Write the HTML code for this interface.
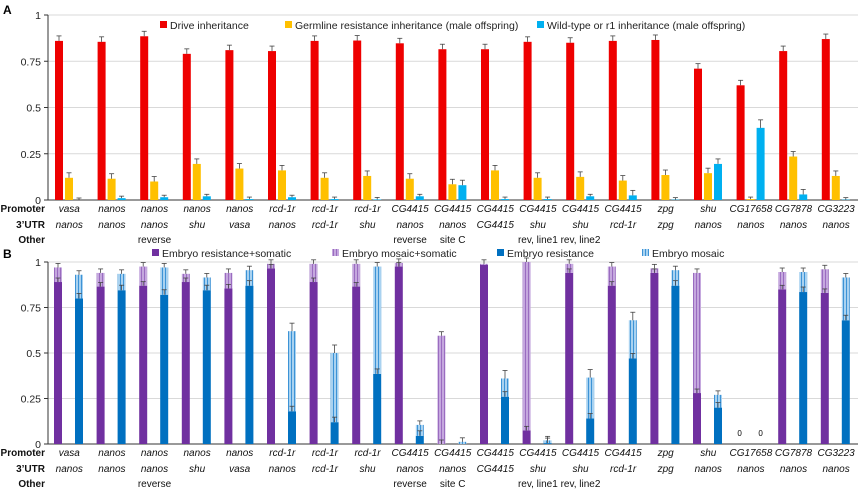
<!DOCTYPE html><html><head><style>body{margin:0;background:#fff}svg{display:block;font-family:"Liberation Sans",sans-serif}</style></head><body>
<svg id="s" width="865" height="490" xmlns="http://www.w3.org/2000/svg">
<defs>
<pattern id="pp" width="3" height="4" patternUnits="userSpaceOnUse"><rect width="3" height="4" fill="#c5a8de"/><rect width="1" height="4" fill="#9a6cc0"/></pattern>
<pattern id="bp" width="3" height="4" patternUnits="userSpaceOnUse"><rect width="3" height="4" fill="#a9d2f0"/><rect width="1" height="4" fill="#3d93d6"/></pattern>
</defs>
</svg>
<script>
const s=document.getElementById('s');let h='';
const X0=48,X1=858,G=42.6;
function axis(top,bot){
 const H=bot-top;
 for(let i=0;i<=4;i++){const y=bot-H*i/4;if(i>0)h+=`<line x1="${X0}" x2="${X1}" y1="${y}" y2="${y}" stroke="#d9d9d9" stroke-width="1"/>`;
 h+=`<line x1="${X0-4}" x2="${X0}" y1="${y}" y2="${y}" stroke="#333"/><text x="${X0-7}" y="${y+4}" font-size="10.5" text-anchor="end" fill="#222">${['0','0.25','0.5','0.75','1'][i]}</text>`;}
 h+=`<line x1="${X0}" x2="${X0}" y1="${top}" y2="${bot}" stroke="#333"/><line x1="${X0}" x2="${X1}" y1="${bot}" y2="${bot}" stroke="#333"/>`;
 const P=['vasa','nanos','nanos','nanos','nanos','rcd-1r','rcd-1r','rcd-1r','CG4415','CG4415','CG4415','CG4415','CG4415','CG4415','zpg','shu','CG17658','CG7878','CG3223'];
 const U=['nanos','nanos','nanos','shu','vasa','nanos','rcd-1r','shu','nanos','nanos','CG4415','shu','shu','rcd-1r','zpg','nanos','nanos','nanos','nanos'];
 const O=['','','reverse','','','','','','reverse','site C','','rev, line1','rev, line2','','','','','',''];
 const r=[bot+12,bot+28,bot+43];
 ['Promoter','3’UTR','Other'].forEach((t,k)=>h+=`<text x="45" y="${r[k]}" font-size="10" font-weight="bold" text-anchor="end" fill="#111">${t}</text>`);
 for(let i=0;i<19;i++){const c=X0+G*i+G/2;
  h+=`<text x="${c}" y="${r[0]}" font-size="10" font-style="italic" text-anchor="middle" fill="#111">${P[i]}</text>`;
  h+=`<text x="${c}" y="${r[1]}" font-size="10" font-style="italic" text-anchor="middle" fill="#111">${U[i]}</text>`;
  if(O[i])h+=`<text x="${c}" y="${r[2]}" font-size="10" text-anchor="middle" fill="#111">${O[i]}</text>`;}
}
function bar(x,w,y0,y1,fill){h+=`<rect x="${x}" y="${Math.min(y0,y1)}" width="${w}" height="${Math.abs(y1-y0)}" fill="${fill}"/>`;}
function err(x,y,e){h+=`<line x1="${x}" x2="${x}" y1="${y}" y2="${y-e}" stroke="#444" stroke-width="0.8"/><line x1="${x-2.5}" x2="${x+2.5}" y1="${y-e}" y2="${y-e}" stroke="#444" stroke-width="0.8"/>`;}
const aT=15,aB=200,aH=185;
axis(aT,aB);
const A=[[.86,.12,0],[.855,.115,.01],[.885,.10,.015],[.79,.195,.02],[.81,.17,.005],[.805,.16,.015],[.86,.12,.005],[.862,.13,.003],[.847,.115,.02],[.815,.085,.08],[.815,.16,.005],[.855,.12,.005],[.85,.125,.02],[.86,.105,.025],[.865,.135,.002],[.71,.145,.195],[.62,.005,.39],[.805,.235,.03],[.87,.13,.002]];
const AC=['#ee0000','#ffc000','#00b0f0'];
A.forEach((d,i)=>{const x=X0+G*i+7;d.forEach((v,k)=>{const bx=x+k*10,y=aB-v*aH;bar(bx,8,aB,y,AC[k]);err(bx+4,y,v>0.3&&k==2?8:(v>0.02?5:2));});});
h+=`<text x="3" y="14" font-size="12" font-weight="bold">A</text>`;
[[160,'Drive inheritance',0],[285,'Germline resistance inheritance (male offspring)',1],[537,'Wild-type or r1 inheritance (male offspring)',2]].forEach(([x,t,k])=>{h+=`<rect x="${x}" y="21" width="7" height="7" fill="${AC[k]}"/><text x="${x+10}" y="29" font-size="10.5" fill="#222">${t}</text>`;});
const bT=262,bB=444,bH=182;
axis(bT,bB);
const B=[[.89,.97,.80,.93],[.865,.94,.845,.935],[.87,.975,.82,.97],[.89,.935,.845,.915],[.855,.94,.87,.955],[.965,.99,.18,.62],[.89,.99,.12,.50],[.865,.99,.385,.975],[.975,.995,.045,.105],[0,.595,0,.012],[.985,.99,.26,.36],[.075,1.0,.005,.02],[.94,.99,.14,.365],[.87,.975,.47,.68],[.94,.965,.87,.955],[.28,.94,.20,.27],null,[.85,.945,.835,.945],[.83,.96,.68,.915]];
B.forEach((d,i)=>{const x=X0+G*i+6;if(!d){h+=`<text x="${x+4}" y="${bB-8}" font-size="8" text-anchor="middle">0</text><text x="${x+25}" y="${bB-8}" font-size="8" text-anchor="middle">0</text>`;return;}
 const y1=bB-d[0]*bH,y2=bB-d[1]*bH,y3=bB-d[2]*bH,y4=bB-d[3]*bH;
 bar(x,8,bB,y1,'#7030a0');bar(x,8,y1,y2,'url(#pp)');bar(x+21,8,bB,y3,'#0070c0');bar(x+21,8,y3,y4,'url(#bp)');
 if(d[1]-d[0]>0.01)err(x+4,y1,4);err(x+4,y2,4);if(d[3]-d[2]>0.01&&d[2]>0)err(x+25,y3,5);err(x+25,y4,d[3]>0.3&&d[3]<0.9?8:4);});
h+=`<text x="3" y="258" font-size="12" font-weight="bold">B</text>`;
[[152,'Embryo resistance+somatic','#7030a0'],[332,'Embryo mosaic+somatic','url(#pp)'],[497,'Embryo resistance','#0070c0'],[642,'Embryo mosaic','url(#bp)']].forEach(([x,t,f])=>{h+=`<rect x="${x}" y="249" width="7" height="7" fill="${f}"/><text x="${x+10}" y="257" font-size="10.5" fill="#222">${t}</text>`;});
s.innerHTML+=h;
</script></body></html>
